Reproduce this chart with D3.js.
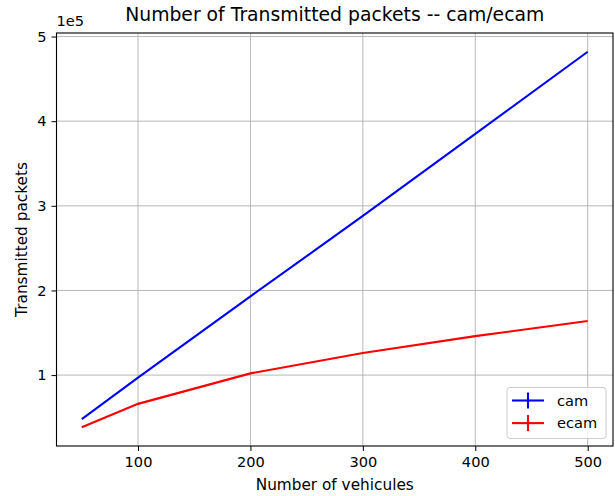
<!DOCTYPE html>
<html>
<head>
<meta charset="utf-8">
<script src="https://cdn.jsdelivr.net/npm/d3@7"></script>
<style>
  body { margin: 0; background: #fff; }
  svg { font-family: "DejaVu Sans", sans-serif; }
  .grid line { stroke: #b0b0b0; stroke-width: 0.9; }
  .tick text { fill: #000; }
</style>
</head>
<body>
<div id="chart"></div>
<script>
// data
let vehicles = [50, 100, 200, 300, 400, 500],
    camPackets = [48000, 97000, 193000, 288000, 385000, 482000],
    ecamPackets = [38400, 66000, 102000, 126000, 146000, 164000],
    xTicks = [100, 200, 300, 400, 500],
    yTicks = [100000, 200000, 300000, 400000, 500000];

let series = [
    {name: 'cam', color: '#0000ff', values: camPackets},
    {name: 'ecam', color: '#ff0000', values: ecamPackets}
];

// margin convention
let margin = {top: 33, left: 56.5, right: 2, bottom: 50},
    totalW = 615, totalH = 496,
    width = totalW - margin.left - margin.right,
    height = totalH - margin.top - margin.bottom;

// matplotlib-style 5% padding
let pad = (lo, hi) => [lo - (hi - lo) * 0.05, hi + (hi - lo) * 0.05];
let allY = camPackets.concat(ecamPackets);

let xScale = d3.scaleLinear().domain(pad(d3.min(vehicles), d3.max(vehicles))).range([0, width]),
    yScale = d3.scaleLinear().domain(pad(d3.min(allY), d3.max(allY))).range([height, 0]);

let svg = d3.select('#chart').append('svg')
    .attr('width', totalW)
    .attr('height', totalH);

let g = svg.append('g').attr('transform', `translate(${margin.left},${margin.top})`);

// grid
g.append('g').classed('grid', true)
    .selectAll('line').data(xTicks).join('line')
    .attr('x1', d => xScale(d)).attr('x2', d => xScale(d))
    .attr('y1', 0).attr('y2', height);
g.append('g').classed('grid', true)
    .selectAll('line').data(yTicks).join('line')
    .attr('y1', d => yScale(d)).attr('y2', d => yScale(d))
    .attr('x1', 0).attr('x2', width);

// lines
let line = d3.line().x((d, i) => xScale(vehicles[i])).y(d => yScale(d));
g.selectAll('path.series').data(series).join('path')
    .classed('series', true)
    .attr('d', d => line(d.values))
    .attr('fill', 'none')
    .attr('stroke', d => d.color)
    .attr('stroke-width', 2.1);

// axes
let xAxis = g.append('g')
    .attr('transform', `translate(0,${height})`)
    .call(d3.axisBottom(xScale).tickValues(xTicks).tickSize(5).tickPadding(6).tickFormat(d3.format('d')));
let yAxis = g.append('g')
    .call(d3.axisLeft(yScale).tickValues(yTicks).tickSize(5).tickPadding(5).tickFormat(d => d / 1e5));
[xAxis, yAxis].forEach(a => {
    a.select('.domain').remove();
    a.selectAll('.tick line').attr('stroke', '#000').attr('stroke-width', 1);
    a.selectAll('.tick text').attr('font-size', 14.6).attr('font-family', '"DejaVu Sans", sans-serif');
});

// frame
g.append('rect')
    .attr('width', width).attr('height', height)
    .attr('fill', 'none').attr('stroke', '#000').attr('stroke-width', 1.1);

// labels
svg.append('text')
    .attr('x', margin.left + width / 2).attr('y', 21)
    .attr('text-anchor', 'middle').attr('font-size', 18.8)
    .text('Number of Transmitted packets -- cam/ecam');
svg.append('text')
    .attr('x', margin.left).attr('y', 26)
    .attr('font-size', 14.6)
    .text('1e5');
svg.append('text')
    .attr('x', margin.left + width / 2).attr('y', 490)
    .attr('text-anchor', 'middle').attr('font-size', 15.3)
    .text('Number of vehicules');
svg.append('text')
    .attr('transform', `translate(27,${margin.top + height / 2}) rotate(-90)`)
    .attr('text-anchor', 'middle').attr('font-size', 15.3)
    .text('Transmitted packets');

// legend
let legend = svg.append('g').attr('transform', 'translate(507,387.5)');
legend.append('rect')
    .attr('width', 99).attr('height', 51).attr('rx', 3)
    .attr('fill', '#fff').attr('fill-opacity', 0.8)
    .attr('stroke', '#cccccc').attr('stroke-width', 1);
let items = legend.selectAll('g.item').data(series).join('g')
    .classed('item', true)
    .attr('transform', (d, i) => `translate(0,${13 + i * 22.6})`);
items.append('line')
    .attr('x1', 5).attr('x2', 37).attr('y1', 0).attr('y2', 0)
    .attr('stroke', d => d.color).attr('stroke-width', 2.1);
items.append('line')
    .attr('x1', 21).attr('x2', 21).attr('y1', -8).attr('y2', 8)
    .attr('stroke', d => d.color).attr('stroke-width', 2.1);
items.append('text')
    .attr('x', 50).attr('y', 5)
    .attr('font-size', 14.6)
    .text(d => d.name);
</script>
</body>
</html>
